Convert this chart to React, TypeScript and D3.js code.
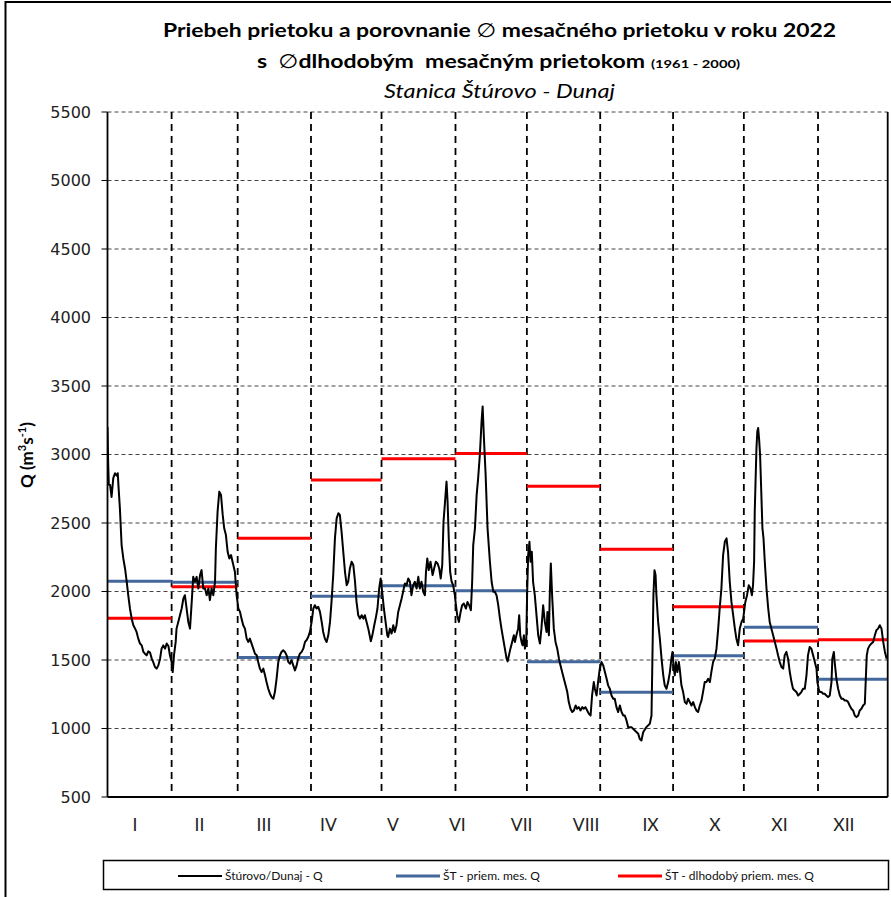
import React from "react";
import * as d3 from "d3";

// ---------- DATA ----------
const monthLabels = ["I", "II", "III", "IV", "V", "VI", "VII", "VIII", "IX", "X", "XI", "XII"];
// month segment edges (plot-day units)
const monthEdges = [0, 30.0, 60.9, 95.2, 128.2, 162.8, 196.2, 230.5, 264.6, 297.7, 332.4, 365, 396];
// 2022 monthly mean discharge (blue)
const monthMean2022 = [2075, 2068, 1518, 1965, 2042, 2006, 1488, 1264, 1531, 1739, 1359, 1551];
// long-term monthly mean 1961-2000 (red)
const monthMeanLongTerm = [1805, 2034, 2388, 2814, 2969, 3008, 2768, 2308, 1889, 1639, 1648, 1865];
// month label anchor positions (plot-day units)
const labelFirstDay = 12.9;
const labelLastDay = 344.5;
const yTicks = [500, 1000, 1500, 2000, 2500, 3000, 3500, 4000, 4500, 5000, 5500];
const xDomain = [0, 365];

// daily discharge Štúrovo/Dunaj [plot-day, Q]
const flow: [number, number][] = [
  [0,3200],[0.3,2950],[0.6,2780],[1.2,2778],[1.9,2690],[2.7,2827],[3.5,2863],[4.3,2846],[4.8,2863],[5.1,2778],[5.8,2607],[6.6,2339],[7.4,2241],[8.2,2168],[9.0,2071],[9.7,1973],[10.5,1876],[11.3,1802],[12.1,1754],[12.9,1729],[13.6,1705],[14.4,1656],[15.2,1620],[16.0,1607],[16.8,1559],[17.5,1546],[18.3,1534],[19.1,1563],[19.9,1554],[20.7,1510],[21.4,1485],[22.2,1449],[23.0,1437],[23.8,1461],[24.6,1510],[25.3,1583],[26.1,1607],[26.9,1583],[27.7,1620],[28.5,1602],[29.2,1534],[30.0,1485],[30.5,1412],[31.1,1534],[31.9,1632],[32.3,1729],[33.1,1778],[33.9,1827],[34.7,1876],[35.5,1949],[36.2,1973],[37.0,1876],[37.8,1778],[38.6,1729],[39.4,1924],[40.1,2107],[40.9,2071],[41.7,2107],[42.5,2022],[43.3,2120],[44.0,2156],[44.8,2022],[45.6,2022],[46.4,1973],[47.2,2022],[47.9,1937],[48.7,2022],[49.5,1973],[50.3,2071],[50.7,2315],[51.5,2583],[52.3,2729],[53.1,2705],[53.9,2559],[54.6,2461],[55.4,2412],[56.2,2290],[57.0,2241],[57.8,2266],[58.5,2217],[59.6,2144],
  [60.4,1973],[61.2,1876],[62.0,1851],[62.7,1802],[63.5,1754],[64.3,1729],[65.1,1656],[65.9,1632],[66.6,1656],[67.4,1620],[68.2,1583],[69.0,1546],[69.8,1534],[70.5,1485],[71.3,1437],[72.1,1412],[72.9,1437],[73.7,1388],[74.4,1339],[75.2,1290],[76.0,1254],[76.8,1229],[77.6,1217],[78.3,1266],[79.1,1363],[79.9,1485],[80.7,1534],[81.4,1559],[82.2,1571],[83.0,1559],[83.8,1534],[84.6,1485],[85.4,1473],[86.1,1498],[86.9,1461],[87.7,1424],[88.5,1461],[89.2,1510],[90.0,1546],[90.8,1559],[91.6,1583],[92.4,1632],[93.1,1644],[93.9,1668],[94.7,1705],[95.5,1778],[96.3,1876],[97.0,1900],[97.8,1876],[98.6,1888],[99.4,1851],[100.2,1778],[100.9,1705],[101.7,1656],[102.5,1632],[103.3,1680],[104.1,1778],[104.8,1924],[105.6,2120],[106.4,2388],[107.2,2534],[108.0,2571],[108.7,2559],[109.5,2437],[110.3,2290],[111.1,2144],[111.9,2046],[112.6,2071],[113.4,2168],[114.2,2217],[115.0,2193],[115.8,2071],[116.5,1924],[117.3,1827],[118.1,1802],[118.9,1827],[119.7,1802],
  [120.4,1827],[121.2,1778],[122.0,1729],[122.8,1668],[123.2,1637],[123.9,1680],[124.8,1754],[125.6,1815],[126.3,1876],[127.1,2022],[127.8,2095],[128.5,1998],[129.3,1876],[130.1,1778],[130.9,1680],[131.3,1668],[132.1,1729],[132.9,1693],[133.7,1754],[134.4,1705],[135.2,1754],[136.0,1851],[136.8,1900],[137.6,1949],[138.3,1998],[139.1,2059],[139.9,2046],[140.7,2095],[141.5,2071],[142.2,1973],[143.0,2046],[143.8,2071],[144.6,2022],[145.4,2107],[146.1,2022],[146.9,2071],[147.7,1998],[148.5,1973],[149.0,2144],[149.6,2241],[150.3,2156],[151.1,2217],[152.1,2120],[152.8,2168],[153.6,2217],[154.4,2205],[155.2,2168],[155.9,2095],[156.6,2193],[157.2,2510],[157.8,2632],[158.6,2802],[159.1,2656],[159.7,2363],[160.3,2144],[161.0,2071],[161.7,2046],[162.5,1973],[163.0,1900],[163.6,1827],[164.4,1778],[165.2,1851],[165.9,1900],[166.7,1912],[167.7,1876],[168.4,1924],[169.2,1900],[170.0,1863],[170.6,2071],[171.1,2339],[171.9,2461],[172.7,2705],[173.4,2827],[174.2,2998],[175.0,3241],[175.5,3351],[176.1,3120],[176.9,2851],[177.8,2461],[178.9,2217],[179.7,2071],[180.5,1998],
  [181.2,1998],[182.0,1973],[182.8,1900],[183.6,1802],[184.3,1729],[185.1,1656],[185.9,1583],[186.7,1510],[187.2,1490],[187.8,1534],[188.5,1583],[189.3,1632],[190.1,1680],[190.6,1632],[191.3,1680],[192.1,1729],[192.6,1827],[193.1,1680],[193.7,1632],[194.2,1607],[194.8,1680],[195.3,1583],[195.9,1632],[196.3,1973],[196.8,2266],[197.4,2363],[197.9,2217],[198.5,2290],[199.1,2071],[199.9,1973],[200.7,1827],[201.5,1680],[202.3,1620],[203.0,1729],[203.8,1900],[204.6,1778],[205.4,1705],[205.8,1851],[206.5,1680],[206.9,1973],[207.4,2205],[208.0,1973],[208.8,1729],[209.6,1632],[210.4,1583],[211.2,1510],[211.9,1461],[212.7,1412],[213.5,1363],[214.3,1315],[215.1,1266],[215.8,1193],[216.6,1144],[217.4,1120],[218.2,1132],[219.0,1168],[219.7,1144],[220.5,1156],[221.3,1132],[222.1,1156],[222.8,1144],[223.6,1156],[224.4,1132],[225.2,1107],[226.0,1095],[226.7,1241],[227.5,1339],[228.0,1290],[228.8,1241],[229.5,1339],[230.3,1437],[231.1,1485],[231.9,1461],[232.7,1412],[233.5,1363],[234.2,1315],[235.0,1290],[235.8,1241],[236.6,1217],[237.3,1217],[238.1,1156],[238.9,1120],[239.7,1168],[240.5,1120],[241.3,1095],
  [242.0,1095],[242.8,1059],[243.6,1010],[245.1,1010],[246.7,985],[248.3,961],[249.0,924],[249.8,912],[250.6,973],[252.1,1010],[253.7,1034],[254.5,1095],[254.9,1485],[255.4,1973],[255.9,2156],[256.4,2120],[256.8,1973],[257.6,1778],[258.4,1656],[259.2,1510],[260.0,1388],[260.7,1315],[261.5,1290],[262.3,1339],[263.1,1412],[263.8,1510],[264.3,1559],[264.9,1437],[265.4,1388],[265.9,1485],[266.6,1412],[267.3,1485],[267.7,1437],[268.5,1315],[269.3,1266],[270.1,1193],[270.9,1180],[271.6,1217],[272.4,1193],[273.2,1168],[274.0,1193],[274.8,1156],[275.5,1132],[276.3,1120],[277.1,1168],[277.9,1205],[278.6,1266],[279.4,1339],[280.2,1339],[281.0,1363],[281.8,1339],[282.5,1412],[283.3,1485],[284.1,1510],[284.9,1583],[285.7,1729],[286.4,1876],[287.2,2022],[288.0,2266],[288.8,2363],[289.6,2388],[290.3,2290],[291.1,2071],[291.9,1924],[292.7,1827],[293.5,1729],[294.2,1656],[295.0,1607],[295.8,1729],[296.6,1778],[297.4,1802],[297.8,1851],[298.4,1924],[299.2,1973],[300.0,2046],[300.8,2022],[301.5,1973],[302.0,2046],[302.5,2217],[302.8,2583],
  [303.3,2876],[303.6,3046],[304.0,3168],[304.4,3193],[304.8,3120],[305.3,2998],[305.9,2705],[306.4,2461],[306.9,2388],[307.5,2217],[308.3,2022],[309.1,1876],[309.8,1778],[310.6,1729],[311.4,1680],[312.2,1632],[313.0,1583],[313.7,1534],[314.5,1485],[315.3,1449],[316.1,1437],[316.8,1534],[317.6,1559],[318.4,1510],[319.2,1412],[320.0,1339],[320.7,1290],[321.5,1278],[322.3,1266],[323.1,1241],[323.9,1254],[324.6,1266],[325.4,1290],[326.2,1290],[327.0,1388],[327.7,1534],[328.5,1595],[329.3,1583],[330.1,1534],[330.9,1485],[331.7,1437],[332.1,1339],[332.7,1290],[333.2,1266],[334.0,1266],[334.8,1254],[335.5,1254],[336.3,1241],[337.1,1229],[337.9,1241],[338.7,1339],[339.1,1510],[339.8,1559],[340.2,1485],[341.0,1363],[341.8,1290],[342.6,1241],[343.4,1217],[344.1,1217],[344.9,1205],[345.7,1205],[346.5,1193],[347.2,1168],[348.0,1144],[348.8,1132],[349.6,1095],[350.4,1083],[351.2,1095],[351.9,1132],[352.7,1144],[353.5,1168],[354.3,1180],[354.7,1339],[355.2,1534],[355.8,1583],[356.6,1607],[357.4,1620],[358.2,1632],[359.0,1680],[359.7,1717],[360.5,1729],[361.3,1754],[362.1,1729],[362.9,1632],[363.7,1559],[364.5,1510]
];

const legendItems = [
  { label: "Štúrovo/Dunaj - Q", color: "#000000", width: 1.8 },
  { label: "ŠT - priem. mes. Q", color: "#44689c", width: 3 },
  { label: "ŠT - dlhodobý priem. mes. Q", color: "#ff0000", width: 3 },
];

// ---------- CHART ----------
const W = 891;
const H = 897;
const plotLeft = 107.5;
const plotRight = 887.7;
const plotTop = 112;
const plotBottom = 797;

export default function App() {
  const x = d3.scaleLinear().domain(xDomain).range([plotLeft, plotRight]);
  const y = d3.scaleLinear().domain([500, 5500]).range([plotBottom, plotTop]);
  const labelScale = d3
    .scalePoint<string>()
    .domain(monthLabels)
    .range([x(labelFirstDay), x(labelLastDay)]);

  const line = d3
    .line<[number, number]>()
    .x((d) => x(d[0]))
    .y((d) => y(d[1]))
    .curve(d3.curveLinear);

  const segs = monthEdges.slice(0, -1).map((e, i) => ({
    x0: e,
    x1: monthEdges[i + 1],
    blue: monthMean2022[i],
    red: monthMeanLongTerm[i],
  }));

  const titleFont = "Lato, 'DejaVu Sans', sans-serif";
  const legendX = [178, 396, 618];

  return (
    <svg
      width={W}
      height={H}
      style={{ position: "absolute", left: 0, top: 0, background: "#fff" }}
      xmlns="http://www.w3.org/2000/svg"
    >
      <defs>
        <clipPath id="plotClip">
          <rect x={plotLeft} y={plotTop - 2} width={plotRight - plotLeft} height={plotBottom - plotTop + 4} />
        </clipPath>
      </defs>
      <rect x={0} y={0} width={W} height={H} fill="#fff" />
      {/* outer frame */}
      <rect x={5.5} y={2} width={W + 10} height={H + 10} fill="none" stroke="#000" strokeWidth={2} />

      {/* titles */}
      <text x={499.5} y={37} textAnchor="middle" fontFamily={titleFont} fontWeight="bold" fontSize={19.5}
        textLength={673} lengthAdjust="spacingAndGlyphs">
        Priebeh prietoku a porovnanie <tspan fontWeight="normal" fontFamily="'DejaVu Sans', sans-serif">∅</tspan> mesačného prietoku v roku 2022
      </text>
      <text x={257} y={68} fontFamily={titleFont} fontWeight="bold" fontSize={19.5}
        textLength={388} lengthAdjust="spacingAndGlyphs" style={{ whiteSpace: "pre" }}>
        {"s  "}<tspan fontWeight="normal" fontFamily="'DejaVu Sans', sans-serif">∅</tspan>{"dlhodobým  mesačným prietokom"}
      </text>
      <text x={651} y={68} fontFamily={titleFont} fontWeight="bold" fontSize={12}
        textLength={89} lengthAdjust="spacingAndGlyphs">
        (1961 - 2000)
      </text>
      <text x={499.5} y={98} textAnchor="middle" fontFamily={titleFont} fontStyle="italic" fontSize={19.5}
        textLength={231} lengthAdjust="spacingAndGlyphs">
        Stanica Štúrovo - Dunaj
      </text>

      {/* horizontal gridlines */}
      {yTicks.filter((t) => t > 500).map((t) => (
        <line key={"g" + t} x1={plotLeft} x2={plotRight} y1={y(t)} y2={y(t)}
          stroke="#444" strokeWidth={1} strokeDasharray="4,3" />
      ))}

      {/* y ticks & labels */}
      {yTicks.map((t) => (
        <g key={"t" + t}>
          <line x1={plotLeft - 6} x2={plotLeft} y1={y(t)} y2={y(t)} stroke="#000" strokeWidth={1} />
          <text x={91} y={y(t)} dy="0.36em" textAnchor="end" fontFamily="'DejaVu Sans', Verdana, sans-serif"
            fontSize={16} fill="#222">
            {t}
          </text>
        </g>
      ))}

      {/* month separators */}
      {monthEdges.slice(1, -2).map((e, i) => (
        <line key={"m" + i} x1={x(e)} x2={x(e)} y1={plotTop} y2={plotBottom}
          stroke="#000" strokeWidth={1.8} strokeDasharray="7,5" />
      ))}

      <g clipPath="url(#plotClip)">
        {segs.map((s, i) => (
          <line key={"b" + i} x1={x(s.x0)} x2={x(s.x1)} y1={y(s.blue)} y2={y(s.blue)}
            stroke="#44689c" strokeWidth={3} />
        ))}
        {segs.map((s, i) => (
          <line key={"r" + i} x1={x(s.x0)} x2={x(s.x1)} y1={y(s.red)} y2={y(s.red)}
            stroke="#ff0000" strokeWidth={3} />
        ))}
        <path d={line(flow) || ""} fill="none" stroke="#000" strokeWidth={2} strokeLinejoin="round" />
      </g>

      {/* axes frame */}
      <line x1={plotLeft} x2={plotLeft} y1={plotTop} y2={plotBottom} stroke="#000" strokeWidth={1.8} />
      <line x1={plotRight} x2={plotRight} y1={plotTop} y2={plotBottom} stroke="#000" strokeWidth={1.8} />
      <line x1={plotLeft} x2={plotRight} y1={plotBottom} y2={plotBottom} stroke="#000" strokeWidth={1.8} />

      {/* month labels */}
      {monthLabels.map((m) => (
        <text key={m} x={labelScale(m)} y={831} textAnchor="middle" fontFamily={titleFont} fontSize={17.5} fill="#222">
          {m}
        </text>
      ))}

      {/* y axis title */}
      <text transform="translate(33,455) rotate(-90)" textAnchor="middle" fontFamily={titleFont}
        fontWeight="bold" fontSize={17}>
        Q (m<tspan fontSize={11} dy={-7}>3</tspan><tspan dy={7}>s</tspan><tspan fontSize={11} dy={-7}>-1</tspan><tspan dy={7}>)</tspan>
      </text>

      {/* legend */}
      <rect x={103.5} y={860.5} width={785} height={29} fill="#fff" stroke="#000" strokeWidth={1.5} />
      {legendItems.map((it, i) => (
        <g key={it.label}>
          <line x1={legendX[i]} x2={legendX[i] + 44} y1={876} y2={876} stroke={it.color} strokeWidth={it.width} />
          <text x={legendX[i] + 47} y={880} fontFamily={titleFont} fontSize={12} fill="#111">
            {it.label}
          </text>
        </g>
      ))}
    </svg>
  );
}
